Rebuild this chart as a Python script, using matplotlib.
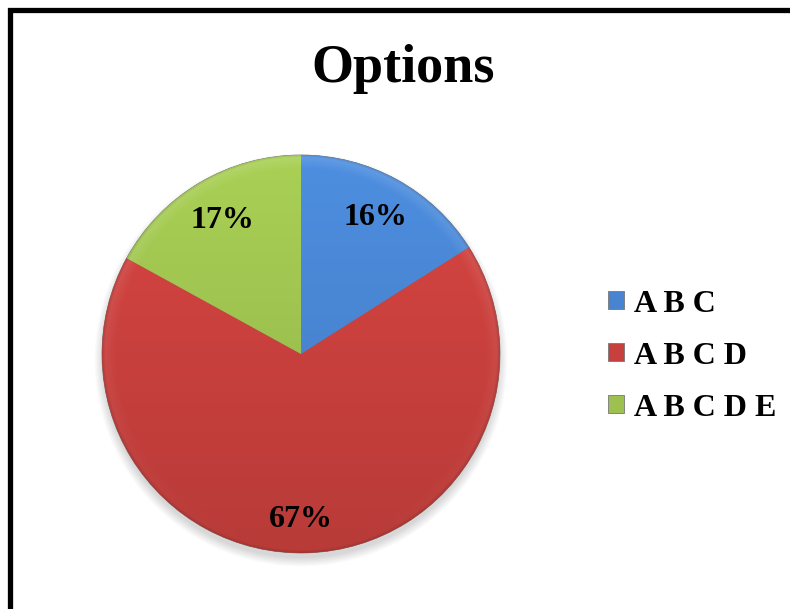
import numpy as np
import matplotlib
matplotlib.use("Agg")
import matplotlib.pyplot as plt
from matplotlib.patches import Rectangle, Patch, Circle
from matplotlib.colors import to_rgb

labels = ["A B C", "A B C D", "A B C D E"]
values = [16, 67, 17]
colors = ["#4884d0", "#c8403d", "#9dc14f"]

plt.rcParams['font.family'] = ['Liberation Serif', 'DejaVu Serif']

fig = plt.figure(figsize=(7.9, 6.09), dpi=100)
W, H = 790, 609

# marco exterior (solo se ven los lados izquierdo y superior)
fig.patches.append(Rectangle((9.5 / W, -0.2), 1.3, 1.2 - 9.5 / H,
                             transform=fig.transFigure, fill=False,
                             edgecolor="black", lw=3.8, zorder=0))

fig.text(403 / W, 1 - 82 / H, "Options", ha="center", va="baseline",
         fontsize=39, fontweight="bold")

# ejes del pastel: centro (301, 354), radio ~199 px
cx, cy, r = 301, 354, 199
pad = 1.15
ax = fig.add_axes([(cx - r * pad) / W, 1 - (cy + r * pad) / H,
                   2 * r * pad / W, 2 * r * pad / H])

# sombra suave bajo el pastel
for k in range(8):
    rr = 0.995 + 0.006 * k
    ax.add_patch(Circle((0.0, -0.03), rr, color="black", alpha=0.02, lw=0, zorder=0))

wedges, texts, autotexts = ax.pie(
    values, colors=colors, startangle=90, counterclock=False, radius=1,
    autopct=lambda p: f"{p:.0f}%", pctdistance=0.78,
    wedgeprops=dict(edgecolor="#707070", linewidth=0.5),
    textprops=dict(fontsize=23, fontweight="bold", color="black"))
for t in autotexts:
    t.set_zorder(5)
autotexts[1].set_position((0.0, -0.83))

# sombreado: degradado vertical y bisel suave en el borde
n = 400
xs = np.linspace(-1, 1, n)
X, Y = np.meshgrid(xs, xs[::-1])
R = np.sqrt(X ** 2 + Y ** 2)
for w, c in zip(wedges, colors):
    base = np.array(to_rgb(c))
    shade = 1.0 + 0.08 * Y
    img = np.clip(base[None, None, :] * shade[..., None], 0, 1)
    rim = np.clip((R - 0.93) / 0.06, 0, 1)[..., None] * np.clip(0.5 + 0.5 * Y, 0, 1)[..., None]
    img = img * (1 - 0.12 * rim) + 0.12 * rim * np.ones(3)
    edge = np.clip((R - 0.985) / 0.015, 0, 1)[..., None]
    img = img * (1 - 0.3 * edge) + 0.3 * edge * base * 0.6
    im = ax.imshow(img, extent=(-1, 1, -1, 1), zorder=2, interpolation="bilinear")
    im.set_clip_path(w)
    w.set_zorder(1)

ax.set_xlim(-pad, pad)
ax.set_ylim(-pad, pad)
ax.set_aspect("equal")
ax.axis("off")

handles = [Patch(facecolor=c, edgecolor="#777777", lw=0.6) for c in colors]
fig.legend(handles, labels, loc="center left",
           bbox_to_anchor=(608 / W, 1 - 356 / H), frameon=False,
           borderpad=0, borderaxespad=0,
           prop=dict(size=23, weight="bold"), handlelength=0.5,
           handleheight=0.5, handletextpad=0.3, labelspacing=0.72)

fig.savefig("out.png", dpi=100)
